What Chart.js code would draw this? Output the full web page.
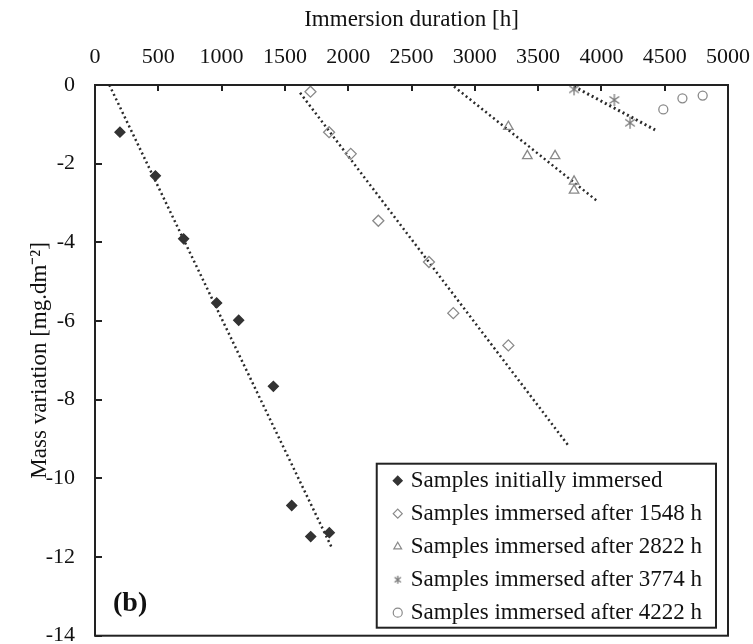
<!DOCTYPE html>
<html lang="en">
  <head>
    <meta charset="UTF-8">
    <title>Mass variation vs immersion duration</title>
    <script src="https://cdn.jsdelivr.net/npm/chart.js@4.4.0/dist/chart.umd.min.js"></script>
    <style>
      body { margin: 0; background: #fff; }
    </style>
  </head>
  <body>
    <canvas id="myChart" width="753" height="644"></canvas>

    <script>
      // values: x = immersion time [h], y = mass variation [mg/dm2]
      const initialX = [197, 477, 700, 961, 1135, 1409, 1554, 1704, 1851];
      const initialY = [-1.20, -2.31, -3.91, -5.54, -5.98, -7.66, -10.69, -11.48, -11.38];

      const after1548X = [1702, 1849, 2020, 2238, 2638, 2830, 3265];
      const after1548Y = [-0.17, -1.20, -1.75, -3.45, -4.50, -5.80, -6.62];

      const after2822X = [3265, 3415, 3634, 3784, 3784];
      const after2822Y = [-1.06, -1.80, -1.80, -2.45, -2.68];

      const after3774X = [3784, 4102, 4226];
      const after3774Y = [-0.11, -0.38, -0.96];

      const after4222X = [4489, 4640, 4800];
      const after4222Y = [-0.62, -0.34, -0.27];

      // dotted trend lines (end points)
      const trend1X = [113, 1870];
      const trend1Y = [0, -11.76];
      const trend2X = [1620, 3747];
      const trend2Y = [-0.2, -9.2];
      const trend3X = [2836, 3963];
      const trend3Y = [-0.04, -2.94];
      const trend4X = [3784, 4424];
      const trend4Y = [-0.04, -1.14];

      const seriesLabels = [
        'Samples initially immersed',
        'Samples immersed after 1548 h',
        'Samples immersed after 2822 h',
        'Samples immersed after 3774 h',
        'Samples immersed after 4222 h'
      ];

      const xMin = 0, xMax = 5000, xStep = 500;
      const yMin = -14, yMax = 0, yStep = 2;

      const FONT = '"Liberation Serif", "Times New Roman", serif';

      function pts(xs, ys) {
        return xs.map((x, i) => ({ x: x, y: ys[i] }));
      }

      // asterisk marker like the spreadsheet one: an x with a vertical bar
      function asterisk(size, color) {
        const c = document.createElement('canvas');
        c.width = size;
        c.height = size;
        const g = c.getContext('2d');
        const h = size / 2, r = size / 2 - 1;
        g.strokeStyle = color;
        g.lineWidth = 1.3;
        g.beginPath();
        g.moveTo(h, h - r); g.lineTo(h, h + r);
        g.moveTo(h - r * 0.8, h - r * 0.6); g.lineTo(h + r * 0.8, h + r * 0.6);
        g.moveTo(h - r * 0.8, h + r * 0.6); g.lineTo(h + r * 0.8, h - r * 0.6);
        g.stroke();
        return c;
      }

      function markers(label, xs, ys, style, fill, stroke, r) {
        return {
          type: 'scatter',
          label: label,
          data: pts(xs, ys),
          pointStyle: style,
          pointRadius: r,
          pointBorderWidth: 1.3,
          backgroundColor: fill,
          borderColor: stroke,
          legendFill: fill === 'transparent' ? '#fff' : fill
        };
      }

      function trend(xs, ys, w) {
        return {
          type: 'line',
          isTrend: true,
          data: pts(xs, ys),
          showLine: true,
          pointRadius: 0,
          borderColor: '#2a2a2a',
          borderWidth: w,
          borderDash: [2, 3],
          fill: false
        };
      }

      // plot frame, inward ticks, panel tag and the boxed legend inside the plot
      const framePlugin = {
        id: 'frame',
        afterDraw(chart) {
          const ctx = chart.ctx;
          const a = chart.chartArea;
          const sx = chart.scales.x, sy = chart.scales.y;
          ctx.save();
          ctx.strokeStyle = '#222';
          ctx.lineWidth = 2;
          ctx.strokeRect(a.left, a.top, a.right - a.left, a.bottom - a.top);
          ctx.beginPath();
          sx.ticks.forEach(t => {
            const px = Math.round(sx.getPixelForValue(t.value));
            ctx.moveTo(px, a.top);
            ctx.lineTo(px, a.top + 6);
          });
          sy.ticks.forEach(t => {
            const py = Math.round(sy.getPixelForValue(t.value));
            ctx.moveTo(a.left, py);
            ctx.lineTo(a.left + 7, py);
          });
          ctx.stroke();

          ctx.fillStyle = '#111';
          ctx.textBaseline = 'middle';
          ctx.font = 'bold 28px ' + FONT;
          ctx.fillText('(b)', a.left + 18, a.bottom - 32);

          ctx.font = '23px ' + FONT;
          const items = chart.data.datasets.filter(d => !d.isTrend);
          let w = 0;
          items.forEach(d => { w = Math.max(w, ctx.measureText(d.label).width); });
          const rowH = 33;
          const boxW = w + 48;
          const boxH = items.length * rowH - 1;
          const bx = a.right - 12 - boxW;
          const by = a.bottom - 8 - boxH;
          ctx.fillStyle = '#fff';
          ctx.fillRect(bx, by, boxW, boxH);
          ctx.strokeStyle = '#222';
          ctx.lineWidth = 2;
          ctx.strokeRect(bx, by, boxW, boxH);

          items.forEach((d, i) => {
            const cy = by + 17 + i * rowH;
            ctx.fillStyle = d.legendFill;
            ctx.strokeStyle = d.borderColor;
            ctx.lineWidth = 1.2;
            const style = d.pointStyle instanceof HTMLCanvasElement ? asterisk(10, d.borderColor) : d.pointStyle;
            Chart.helpers.drawPoint(ctx, { pointStyle: style, radius: 4.5, borderWidth: 1.2, rotation: 0 }, bx + 21, cy);
            ctx.fillStyle = '#111';
            ctx.fillText(d.label, bx + 34, cy);
          });
          ctx.restore();
        }
      };

      const ctx = document.getElementById('myChart').getContext('2d');
      const myChart = new Chart(ctx, {
        type: 'scatter',
        data: {
          datasets: [
            markers(seriesLabels[0], initialX, initialY, 'rectRot', '#333', '#333', 5),
            markers(seriesLabels[1], after1548X, after1548Y, 'rectRot', 'transparent', '#8a8a8a', 5.5),
            markers(seriesLabels[2], after2822X, after2822Y, 'triangle', 'transparent', '#8a8a8a', 5.5),
            markers(seriesLabels[3], after3774X, after3774Y, asterisk(14, '#7a7a7a'), 'transparent', '#7a7a7a', 7),
            markers(seriesLabels[4], after4222X, after4222Y, 'circle', 'transparent', '#8a8a8a', 4.5),
            trend(trend1X, trend1Y, 2.5),
            trend(trend2X, trend2Y, 2.5),
            trend(trend3X, trend3Y, 2.5),
            trend(trend4X, trend4Y, 3)
          ]
        },
        options: {
          responsive: false,
          animation: false,
          layout: { padding: { left: 0, top: 0, right: 25, bottom: 7 } },
          plugins: {
            legend: { display: false },
            tooltip: { enabled: false }
          },
          scales: {
            x: {
              type: 'linear',
              position: 'top',
              min: xMin,
              max: xMax,
              border: { display: false },
              grid: { drawOnChartArea: false, color: '#222', lineWidth: 2, tickLength: -6 },
              ticks: {
                stepSize: xStep, padding: 21, color: '#111', maxRotation: 0,
                font: { family: FONT, size: 22 },
                callback: v => String(v)
              },
              title: { display: true, text: 'Immersion duration [h]', color: '#111', padding: { top: 6, bottom: 0 }, font: { family: FONT, size: 23 } },
              afterFit(scale) {
                scale.height = 85;
                scale.paddingLeft = 0;
                scale.paddingRight = 0;
              }
            },
            y: {
              type: 'linear',
              min: yMin,
              max: yMax,
              border: { display: false },
              grid: { drawOnChartArea: false, color: '#222', lineWidth: 2, tickLength: -7 },
              ticks: {
                stepSize: yStep, padding: 27, color: '#111',
                font: { family: FONT, size: 22 },
                callback: v => String(v)
              },
              title: { display: true, text: 'Mass variation [mg.dm⁻²]', color: '#111', padding: { top: 26, bottom: 0 }, font: { family: FONT, size: 23 } },
              afterFit(scale) {
                scale.width = 95;
                scale.paddingTop = 0;
                scale.paddingBottom = 0;
              }
            }
          }
        },
        plugins: [framePlugin]
      });
    </script>
  </body>
</html>
